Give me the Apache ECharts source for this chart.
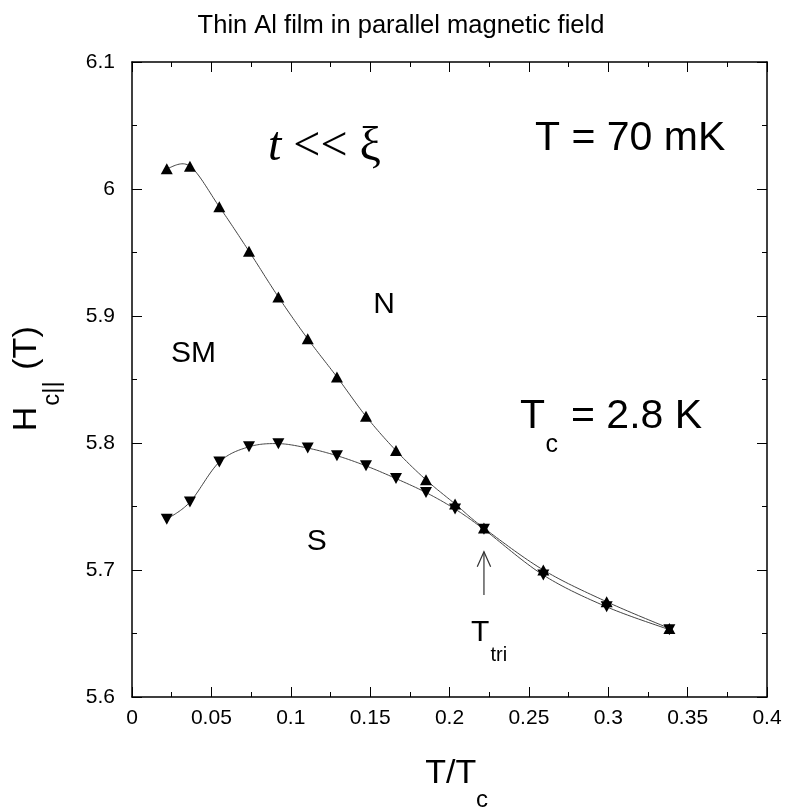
<!DOCTYPE html>
<html>
<head>
<meta charset="utf-8">
<script src="https://cdn.jsdelivr.net/npm/echarts@6/dist/echarts.min.js"></script>
<style>html,body{margin:0;padding:0;background:#fff;}#c{width:786px;height:807px;}</style>
</head>
<body>
<div id="c"></div>
<script>
// Reduced temperature T/Tc of each measurement
const tRed = [0.0219, 0.0365, 0.0550, 0.0737, 0.0922, 0.1107, 0.1291, 0.1474, 0.1663, 0.1852, 0.2035, 0.2217, 0.2591, 0.2990, 0.3385];
// Upper critical field branch (up triangles), T
const hcUp = [6.016, 6.018, 5.986, 5.951, 5.915, 5.882, 5.852, 5.821, 5.794, 5.771, 5.752, 5.733, 5.700, 5.675, 5.654];
// Lower critical field branch (down triangles), T
const hcDown = [5.740, 5.7535, 5.785, 5.797, 5.7995, 5.796, 5.790, 5.782, 5.772, 5.761, 5.748, 5.732, 5.696, 5.671, 5.653];
// Axis ranges / tick steps
const xRange = [0, 0.4], xStep = 0.05;
const yRange = [5.6, 6.1], yStep = 0.1;
// Tricritical arrow (data coords)
const triX = 0.2217, triFrom = 5.6803, triTo = 5.7144;

const FONT = 'Liberation Sans, Arial, sans-serif';
const SERIF = 'Liberation Serif, Times New Roman, serif';
const chart = echarts.init(document.getElementById('c'), null, {renderer: 'canvas'});

function pairs(xs, ys) { return xs.map((x, i) => [x, ys[i]]); }

// Smooth spline curve through the data points, placed via the axes' scales (api.coord)
function splineSeries(xs, ys) {
  return {
    type: 'custom', coordinateSystem: 'cartesian2d', silent: true, z: 1,
    data: [[xs[0], ys[0]]],
    renderItem: function (params, api) {
      const P = xs.map((x, i) => api.coord([x, ys[i]]));
      const n = P.length, pts = [], steps = 20;
      for (let i = 0; i < n - 1; i++) {
        const p0 = P[Math.max(i - 1, 0)], p1 = P[i], p2 = P[i + 1], p3 = P[Math.min(i + 2, n - 1)];
        for (let s = (i === 0 ? 0 : 1); s <= steps; s++) {
          const t = s / steps, t2 = t * t, t3 = t2 * t;
          const f = k => 0.5 * ((2 * p1[k]) + (-p0[k] + p2[k]) * t +
            (2 * p0[k] - 5 * p1[k] + 4 * p2[k] - p3[k]) * t2 +
            (-p0[k] + 3 * p1[k] - 3 * p2[k] + p3[k]) * t3);
          pts.push([f(0), f(1)]);
        }
      }
      return {type: 'polyline', shape: {points: pts}, style: {stroke: '#444', lineWidth: 1, fill: null}};
    }
  };
}

const axisCommon = {
  axisLine: {show: true, onZero: false, lineStyle: {color: '#000', width: 1.5}},
  axisTick: {show: true, inside: true, length: 10, lineStyle: {color: '#000', width: 1}},
  minorTick: {show: true, splitNumber: 2, length: 5, lineStyle: {color: '#000', width: 1}},
  splitLine: {show: false},
  minorSplitLine: {show: false}
};

const option = {
  animation: false,
  backgroundColor: '#fff',
  grid: {left: 132, top: 62, width: 635, height: 635},
  xAxis: [
    Object.assign({type: 'value', min: xRange[0], max: xRange[1], interval: xStep, position: 'bottom',
      axisLabel: {show: true, color: '#000', fontFamily: FONT, fontSize: 21, margin: 11}}, axisCommon),
    Object.assign({type: 'value', min: xRange[0], max: xRange[1], interval: xStep, position: 'top',
      axisLabel: {show: false}}, axisCommon)
  ],
  yAxis: [
    Object.assign({type: 'value', min: yRange[0], max: yRange[1], interval: yStep, position: 'left',
      axisLabel: {show: true, color: '#000', fontFamily: FONT, fontSize: 21, margin: 17}}, axisCommon),
    Object.assign({type: 'value', min: yRange[0], max: yRange[1], interval: yStep, position: 'right',
      axisLabel: {show: false}}, axisCommon)
  ],
  series: [
    splineSeries(tRed, hcUp),
    splineSeries(tRed, hcDown),
    {
      type: 'scatter', data: pairs(tRed, hcUp), z: 3,
      symbol: 'triangle', symbolSize: [12, 11],
      itemStyle: {color: '#000', opacity: 1}
    },
    {
      type: 'scatter', data: pairs(tRed, hcDown), z: 3,
      symbol: 'triangle', symbolSize: [12, 11], symbolRotate: 180,
      itemStyle: {color: '#000', opacity: 1}
    }
  ]
};
chart.setOption(option);

function txt(x, y, text, fs, extra) {
  return {
    type: 'text', x: x, y: y, z: 100,
    rotation: (extra && extra.rotation) || 0,
    style: Object.assign({text: text, fill: '#000', font: fs + 'px ' + FONT,
      align: 'left', verticalAlign: 'middle'}, (extra && extra.style) || {})
  };
}

const tip = chart.convertToPixel({gridIndex: 0}, [triX, triTo]);
const base = chart.convertToPixel({gridIndex: 0}, [triX, triFrom]);

const graphics = [
  txt(401, 26, 'Thin Al film in parallel magnetic field', 25.5, {style: {align: 'center'}}),
  {
    type: 'text', x: 268, y: 147, z: 100,
    style: {
      text: '{i|t}{n| << ξ}', verticalAlign: 'middle', align: 'left',
      rich: {
        i: {fontFamily: SERIF, fontStyle: 'italic', fontSize: 48, fill: '#000'},
        n: {fontFamily: SERIF, fontSize: 48, fill: '#000'}
      }
    }
  },
  txt(535, 139, 'T = 70 mK', 41),
  txt(520, 416.6, 'T', 41),
  txt(545.5, 445.3, 'c', 25),
  txt(571, 416.6, '= 2.8 K', 41),
  txt(384, 305, 'N', 30, {style: {align: 'center'}}),
  txt(171, 353.5, 'SM', 30),
  txt(316.7, 541.5, 'S', 30, {style: {align: 'center'}}),
  txt(471, 633, 'T', 30),
  txt(490.5, 655.5, 'tri', 20),
  // y axis title
  txt(26.3, 419, 'H', 34, {rotation: Math.PI / 2, style: {align: 'center'}}),
  txt(52.6, 393.5, 'c||', 24, {rotation: Math.PI / 2, style: {align: 'center'}}),
  txt(26.3, 348, '(T)', 34, {rotation: Math.PI / 2, style: {align: 'center'}}),
  // x axis title
  txt(450.8, 774, 'T/T', 34, {style: {align: 'center'}}),
  txt(476, 800, 'c', 24),
  // arrow
  {type: 'line', z: 100, shape: {x1: base[0], y1: base[1], x2: tip[0], y2: tip[1]}, style: {stroke: '#333', lineWidth: 1.2}},
  {type: 'polyline', z: 100, shape: {points: [[tip[0] - 6.7, tip[1] + 15], [tip[0], tip[1]], [tip[0] + 6.7, tip[1] + 15]]}, style: {stroke: '#333', lineWidth: 1.2, fill: null}}
];
chart.setOption({graphic: graphics});
</script>
</body>
</html>
